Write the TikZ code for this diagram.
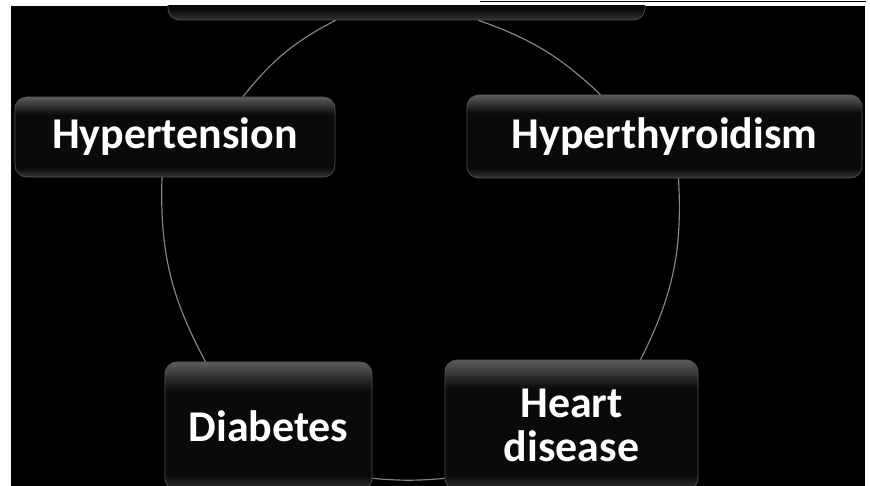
\documentclass[tikz,border=0pt]{standalone}
\usepackage{fontspec}
\setmainfont{Carlito}
\usetikzlibrary{calc,positioning}
\pgfdeclareverticalshading{glassy}{100bp}{color(0bp)=(black!80); color(25bp)=(black!80);
  color(31bp)=(black!96); color(64bp)=(black!96); color(75bp)=(black!64); color(100bp)=(black!64)}
\tikzset{
  illness/.style = { draw=black!68, line width=0.6pt, rounded corners=10pt,
                     shading=glassy, text=white, align=center, inner sep=0pt,
                     font=\bfseries\fontsize{37.5}{37.5}\selectfont },
  ring/.style    = { draw=black!48, line width=1pt },
  sheet/.style   = { fill=black }
}

\begin{document}
\begin{tikzpicture}[x=0.03cm, y=-0.03cm]
  \useasboundingbox (0,0) rectangle (870,486);
  % page and frame
  \fill[white] (0,0) rectangle (870,486);
  \fill[sheet] (11,6) rectangle (865,486);
  \draw[black, line width=0.8pt] (480,1.5) -- (866,1.5);

  \begin{scope}
  \clip (11,6) rectangle (865,486);
  % Draw all illnesses
  \node[illness, minimum width=14.31cm, minimum height=2.7cm]  (top)    at (406.5,-25) {};
  \node[illness, minimum width=9.6cm,   minimum height=2.4cm]  (hyptn)  at (175,137)   {Hypertension};
  \node[illness, minimum width=11.85cm, minimum height=2.49cm] (hypthy) at (664.5,136.5) {Hyperthyroidism};
  \node[illness, minimum width=6.21cm,  minimum height=3.84cm] (dia)    at (268.5,426) {Diabetes};
  \node[illness, minimum width=7.59cm,  minimum height=3.9cm]  (heart)  at (571.5,425) {Heart\\disease};

  % Draw the ring
  \draw[ring] ($(top.south)+(72,0)$)         to[bend left=12] ($(hypthy.north)+(-64,0)$);
  \draw[ring] ($(hypthy.south)+(14,0)$)      to[bend left=15] ($(heart.north)+(69,0)$);
  \draw[ring] ($(heart.south west)+(0,-12)$) to[bend left=5]  ($(dia.south east)+(0,-12)$);
  \draw[ring] ($(dia.north)+(-63,0)$)        to[bend left=15] ($(hyptn.south)+(-13,0)$);
  \draw[ring] ($(hyptn.north)+(68,0)$)       to[bend left=12] ($(top.south)+(-71,0)$);
  \end{scope}
\end{tikzpicture}
\end{document}
